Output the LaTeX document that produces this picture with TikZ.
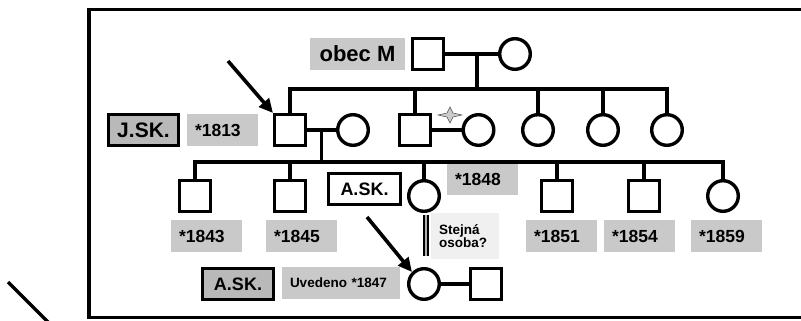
\documentclass[tikz,border=0pt]{standalone}
\usepackage{fontspec}
\setmainfont{Liberation Sans}
\usepackage{tikz}
\usetikzlibrary{arrows.meta,calc}
\definecolor{TagGray}{HTML}{C9C9C9}
\definecolor{NameGray}{HTML}{B9B9B9}
\definecolor{NoteGray}{HTML}{F0F0F0}
\newcommand{\fsz}[1]{\fontsize{#1}{#1}\selectfont\bfseries}

\begin{document}
\begin{tikzpicture}[x=1pt,y=-1pt,
  male/.style={draw,line width=3.4pt,minimum size=30.6pt,inner sep=0pt},
  female/.style={male,circle},
  link/.style={line width=3.4pt},
  pointer/.style={line width=3.6pt,-{Triangle[length=14pt,width=13pt]}},
  tag/.style={fill=TagGray,inner sep=0pt,minimum height=32pt,font=\fsz{17.5}},
  yearbox/.style={tag,text width=55pt,inner xsep=8pt,align=left},
  namebox/.style={draw,line width=3.4pt,fill=NameGray,minimum width=71pt,minimum height=31pt,inner sep=0pt,font=\fsz{18}},
  notebox/.style={fill=NoteGray,text width=52pt,inner xsep=8pt,inner ysep=0pt,minimum height=46pt,align=left,font=\fsz{13.5}}
]
\useasboundingbox (0,0) rectangle (801,321);
\clip (0,0) rectangle (801,321);
\draw[line width=3.6pt] (89,9.5) rectangle (840,317.5);
\coordinate (o1) at (8,282);
\coordinate (o2) at (60,334);
\draw[link] (o1) -- (o2);

\node[male] (sqM) at (428,54) {};
\node[female] (fM) at (515,54) {};
\node[tag,minimum width=95pt,font=\fsz{22}] (obec) at (357.5,54) {obec M};

\node[male] (sq1813) at (290,130) {};
\node[female] (w1813) at (353,130) {};
\node[male] (sqB) at (415,130) {};
\node[female] (fB) at (478.5,130) {};
\node[female] (f3) at (538,130) {};
\node[female] (f4) at (603,130) {};
\node[female] (f5) at (667,130) {};
\node[namebox,minimum width=70pt,font=\fsz{21}] (jsk) at (143.5,130) {J.SK.};
\node[yearbox] (y1813) at (222.5,130) {*1813};

\node[male] (sq1843) at (195,196) {};
\node[male] (sq1845) at (290,196) {};
\node[female] (f1848) at (424,196) {};
\node[male] (sq1851) at (557,196) {};
\node[male] (sq1854) at (644,196) {};
\node[female] (f1859) at (723,196) {};
\node[yearbox] (y1843) at (206.5,236) {*1843};
\node[yearbox] (y1845) at (301.5,236) {*1845};
\node[yearbox] (y1848) at (482.5,179) {*1848};
\node[yearbox] (y1851) at (561.5,236) {*1851};
\node[yearbox] (y1854) at (639.5,236) {*1854};
\node[yearbox] (y1859) at (726.5,236) {*1859};
\node[namebox,fill=white,minimum width=72pt] (askA) at (364.5,189) {A.SK.};
\node[notebox] (same) at (465,236) {Stejná\\osoba?};
\draw[line width=2pt,double=gray!60,double distance=2pt] ([xshift=-4.5pt,yshift=-2pt]same.north west) -- ([xshift=-4.5pt,yshift=3pt]same.south west);

\node[female] (f1847) at (424,284) {};
\node[male] (h1847) at (486,284) {};
\node[namebox] (askB) at (238,284) {A.SK.};
\node[tag,text width=102pt,inner xsep=8pt,align=left,font=\fsz{13.5}] (uved) at (341,283) {Uvedeno *1847};

% marriages
\draw[link] (sqM.east) -- (fM.west);
\draw[link] (sq1813.east) -- (w1813.west);
\draw[link] (sqB.east) -- (fB.west);
\draw[link] (f1847.east) -- (h1847.west);
\draw[fill=gray!40,draw=gray!60!black,line width=0.5pt] (438,115) -- (447,113) -- (450,107) -- (453,113) -- (462,115) -- (453,117) -- (450,123) -- (447,117) -- cycle;

% descent
\coordinate (mM) at ($(sqM.east)!0.6!(fM.west)$);
\coordinate (jM) at ($(mM)+(0,35)$);
\draw[link] (mM) -- (jM);
\draw[link] (sq1813.north) |- (jM) -| (f5.north);
\foreach \n in {sqB,f3,f4} \draw[link] (\n.north) -- (\n.north |- jM);

\coordinate (m1813) at ($(sq1813.east)!0.5!(w1813.west)$);
\coordinate (j1813) at ($(m1813)+(0,32)$);
\draw[link] (m1813) -- (j1813);
\draw[link] (sq1843.north) |- (j1813) -| (f1859.north);
\foreach \n in {sq1845,f1848,sq1851,sq1854} \draw[link] (\n.north) -- (\n.north |- j1813);

\coordinate (a1) at (228,61);
\coordinate (a2) at (367,217);
\draw[pointer] (a1) -- (sq1813.north west);
\draw[pointer] (a2) -- (f1847.north west);
\end{tikzpicture}
\end{document}
